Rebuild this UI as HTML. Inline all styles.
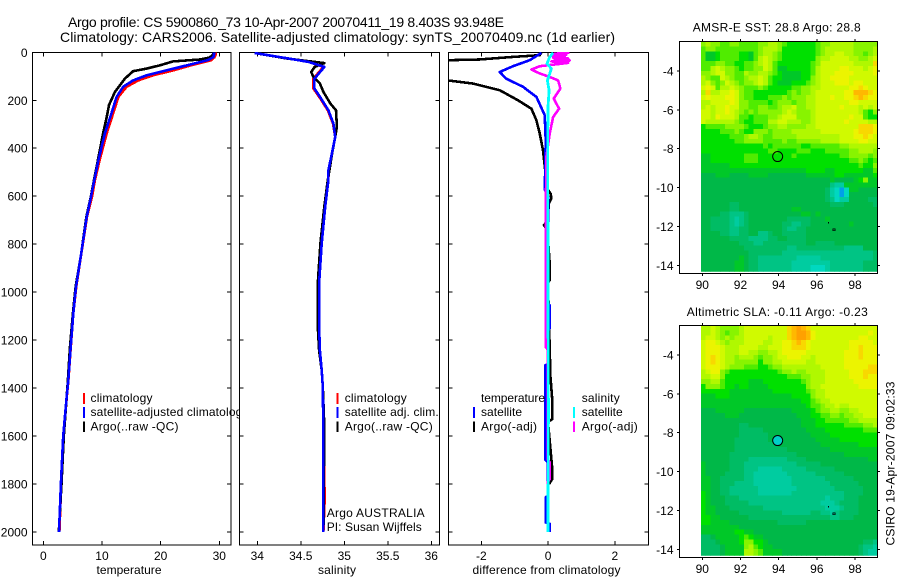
<!DOCTYPE html>
<html>
<head>
<meta charset="utf-8">
<title>Argo profile</title>
<style>
html,body{margin:0;padding:0;background:#fff;}
#chart{display:block;position:absolute;left:0;top:0;}
text{font-family:"Liberation Sans",sans-serif;font-size:12px;fill:#000;}
</style>
</head>
<body>
<svg id="chart" width="900" height="580" viewBox="0 0 900 580" xmlns="http://www.w3.org/2000/svg">
<defs>
<clipPath id="clip-diff"><rect x="448.3" y="52" width="200" height="493"/></clipPath>
<clipPath id="clip-temp-legend"><rect x="32" y="52" width="208" height="493"/></clipPath>
<clipPath id="clip-map1"><rect x="701" y="41.7" width="176.3" height="230"/></clipPath>
<clipPath id="clip-map2"><rect x="701" y="325.7" width="176.3" height="230"/></clipPath>
</defs>
<text x="68" y="27" style="font-size:14px" textLength="436">Argo profile: CS 5900860_73 10-Apr-2007 20070411_19 8.403S 93.948E</text>
<text x="60" y="42" style="font-size:14px" textLength="555">Climatology: CARS2006. Satellite-adjusted climatology: synTS_20070409.nc (1d earlier)</text>
<g id="layer"></g>
<text x="129" y="574" text-anchor="middle" textLength="65">temperature</text>
<text x="337" y="574" text-anchor="middle" textLength="38">salinity</text>
<text x="546.5" y="574" text-anchor="middle" textLength="148">difference from climatology</text>
<text x="776.7" y="31.5" text-anchor="middle" textLength="168">AMSR-E SST: 28.8 Argo: 28.8</text>
<text x="777.3" y="316" text-anchor="middle" textLength="181">Altimetric SLA: -0.11 Argo: -0.23</text>
<text transform="translate(894.5,545.5) rotate(-90)" textLength="164">CSIRO 19-Apr-2007 09:02:33</text>
</svg>
<script>
// ---- Profile data ----
const tempDepths = [0, 10, 20, 33, 54, 75, 96, 117, 144, 186, 255, 338, 450, 533, 603, 686, 853, 978, 1089, 1228, 1367, 1436, 1600, 1800, 2000];
const tempClim = [29.4, 29.4, 29.2, 28.6, 25.2, 22.2, 18.7, 16.2, 14.2, 12.8, 11.9, 10.8, 9.6, 8.8, 8.3, 7.45, 6.4, 5.6, 5.12, 4.68, 4.27, 4.0, 3.45, 3.05, 2.75];
const tempSat = [29.1, 29.1, 29.0, 28.0, 24.5, 21.0, 17.6, 15.3, 13.6, 12.5, 11.6, 10.5, 9.4, 8.69, 8.13, 7.39, 6.37, 5.57, 5.11, 4.67, 4.26, 3.99, 3.4, 3.0, 2.67];
const tempArgoDepths = [0, 12, 22, 30, 38, 54, 68, 79, 110, 165, 220, 270, 338, 450, 533, 603, 686, 853, 978, 1089, 1228, 1367, 1600, 1800, 2000];
const tempArgo = [29.0, 28.9, 28.3, 26.7, 22.1, 19.9, 17.6, 15.3, 13.9, 12.2, 11.2, 10.8, 10.2, 9.3, 8.65, 8.1, 7.35, 6.37, 5.5, 5.05, 4.55, 4.2, 3.5, 3.1, 2.65];

const salDepths = [3, 12, 26, 40, 61, 82, 110, 151, 193, 242, 297, 353, 422, 492, 533, 644, 797, 963, 1144, 1242, 1325, 1394, 1600, 1860, 2000];
const salClim = [33.97, 34.127, 34.357, 34.587, 34.76, 34.71, 34.645, 34.645, 34.725, 34.81, 34.87, 34.895, 34.857, 34.82, 34.817, 34.78, 34.74, 34.71, 34.71, 34.72, 34.74, 34.753, 34.76, 34.775, 34.76];
const salSat = [33.97, 34.127, 34.357, 34.587, 34.771, 34.722, 34.656, 34.656, 34.733, 34.817, 34.875, 34.895, 34.857, 34.817, 34.817, 34.78, 34.74, 34.71, 34.71, 34.72, 34.74, 34.753, 34.76, 34.76, 34.76];
const salArgoDepths = [3, 12, 26, 45, 61, 82, 103, 130, 165, 214, 242, 311, 353, 422, 533, 644, 797, 963, 1144, 1242, 1325, 1394, 1560, 2000];
const salArgo = [33.97, 34.12, 34.34, 34.77, 34.66, 34.62, 34.645, 34.72, 34.76, 34.84, 34.905, 34.915, 34.895, 34.86, 34.81, 34.77, 34.725, 34.695, 34.695, 34.71, 34.74, 34.753, 34.77, 34.76];

const diffTempArgoDepths = [2, 12, 19, 30, 33, 36, 60, 100, 117, 130, 158, 200, 235, 283, 338, 408, 500, 570, 590, 610, 630, 700, 720, 745, 880, 950, 960, 1350, 1440, 1530, 1540, 1730, 1780, 1800];
const diffTempArgo = [-0.2, -0.25, -1.05, -2.06, -3.0, -5, -8, -4, -3.0, -2.26, -1.45, -0.9, -0.5, -0.35, -0.25, -0.15, -0.08, -0.02, 0.08, 0.1, 0.02, 0, -0.12, -0.02, 0.05, 0.05, 0, 0.07, 0.12, 0.12, 0, 0.12, 0.12, 0.03];
const diffTempSatDepths = [2, 12, 33, 58, 82, 110, 144, 186, 262, 367, 530, 575, 600, 1050, 1055, 1150, 1160, 1300, 1305, 1700, 1710, 1850, 1855, 1960, 1965, 2000];
const diffTempSat = [-0.2, -0.31, -0.55, -1.05, -1.45, -1.25, -0.75, -0.35, -0.1, -0.07, -0.09, -0.09, 0, 0, 0.05, 0.05, 0, 0, -0.08, -0.08, 0, 0, -0.07, -0.07, 0.05, 0.05];
const diffSalArgoDepths = [2, 6, 10, 14, 18, 22, 26, 30, 34, 38, 44, 50, 58, 72, 88, 103, 117, 151, 193, 235, 270, 339, 436, 700, 1230, 1240, 1700, 1710, 1780, 1790, 2000];
const diffSalArgo = [0.65, 0.2, 0.55, 0.1, 0.5, 0.15, 0.6, 0.2, 0.65, 0.1, 0.6, 0.25, -0.25, -0.5, -0.25, 0.05, 0.3, 0.37, 0.17, 0.33, 0.15, 0.05, -0.05, -0.07, -0.07, 0, 0, 0.05, 0.05, 0, 0];
const diffSalSatDepths = [2, 20, 47, 68, 90, 117, 158, 228, 400, 1000, 1500, 2000];
const diffSalSat = [0.15, 0.05, -0.03, 0.1, 0.05, -0.02, 0.03, 0, -0.01, 0, 0.01, 0];

// ---- Tick labels ----
const depthTicks = [0, 200, 400, 600, 800, 1000, 1200, 1400, 1600, 1800, 2000];
const tempTicks = [0, 10, 20, 30];
const tempLabels = ['0', '10', '20', '30'];
const salTicks = [34, 34.5, 35, 35.5, 36];
const salLabels = ['34', '34.5', '35', '35.5', '36'];
const diffTicks = [-2, 0, 2];
const lonTicks = [90, 92, 94, 96, 98];
const latTicks = [-4, -6, -8, -10, -12, -14];

// ---- Float and map markers ----
const floatLon = [93.948];
const floatLat = [-8.403];
const islandLon = [96.9, 96.65];
const islandLat = [-12.17, -11.83];

// ---- Map grids: each character is a colour level, top row is northmost ----
const sstRows = [
'8988 7788 7777 8899 8766 6666 7889 9999 8888 8',
'7887 7777 7777 8999 8666 6666 7899 9999 8888 9',
'7556 7777 6657 8998 7666 6666 7899 aa99 8878 9',
'7556 7777 6657 9a98 7666 6666 899a aaa9 9889 a',
'7778 8776 6778 9a97 6666 6667 8aaa aaaa 9999 c',
'779a 9887 6778 8a97 5566 6667 9aaa abba aa9a b',
'889a a887 7988 9987 6555 5667 9aaa bbbb aaaa b',
'9877 a987 7899 a976 6555 5668 9aab bbba aaaa a',
'9a87 8a98 7889 a976 5556 6678 9aaa bbba bbaa a',
'aba7 99a9 8777 8766 6667 7889 9aaa aaab bcba a',
'9c99 aaba 8776 6666 6678 7889 aaaa aabb dddc b',
'abaa abba 8776 6677 7878 8899 aaab aabb cdcb b',
'99aa aaba 8877 7767 8887 8899 aaaa aaab baaa a',
'9a9a abaa 8877 8877 899a 8899 aaaa abaa a9a9 a',
'aa9a aba9 8787 8888 89a9 8889 aaaa aaaa a976 8',
'aa9b aaa9 7767 7788 9aaa 8889 aaaa aaab aa76 6',
'a999 9998 7667 7799 aa99 9889 aaaa aaba aaa9 9',
'6777 7888 8766 6788 9988 8899 aaaa aaaa accc b',
'6666 7778 7668 8878 8889 9999 9aaa aaaa bccc b',
'6666 6677 7899 8778 8888 9999 9999 9aaa bbcb a',
'6666 6667 7888 8777 7877 8888 8999 9aaa abba a',
'6666 6666 6666 6767 7777 7667 7777 7889 9999 9',
'6666 6666 6666 6677 6666 7776 6677 7778 8999 8',
'5566 6666 6777 6666 6667 6666 6666 6778 8887 8',
'5566 6666 6777 6666 6666 6666 6666 6667 7876 7',
'5555 5566 6666 6666 6666 6666 6666 6666 6766 8',
'5555 5555 5555 5555 5555 5566 6655 6666 6655 7',
'4445 5544 4455 5544 4444 4455 5555 6655 5555 6',
'4444 4444 4444 4444 4444 4444 4445 4444 5685 5',
'4444 4444 4444 4444 4444 4444 4442 1155 5555 5',
'4444 4444 4444 4444 4444 4444 4431 0f05 5444 4',
'4444 4444 4444 4444 4444 4444 4431 0f04 4444 4',
'4444 4444 4444 4444 4444 4444 4432 0114 4443 3',
'4444 4433 4444 4444 4444 4444 4443 3344 4444 3',
'4444 4433 4444 4444 4445 5444 4444 4444 4444 4',
'4444 3322 2344 4444 4444 4554 5444 4444 4444 4',
'4433 3321 2344 4444 4433 3334 4454 4444 4444 4',
'4433 3321 2344 4444 4332 2334 4444 4445 4444 4',
'4433 3322 3344 4444 4322 3344 4444 4444 4444 4',
'4444 3322 3344 2234 4333 3344 4444 4444 4444 4',
'4444 4433 3322 2233 4433 3344 4444 4444 4444 4',
'4444 4444 3332 2333 3333 3344 3333 4444 4444 4',
'4444 4444 4333 3333 3322 3333 3333 3322 2244 4',
'4444 4444 4433 3333 3222 2222 2222 2222 2222 3',
'4444 4444 5433 2222 2222 1111 1222 2222 2222 3',
'4444 4445 5433 2222 2221 1111 1112 2222 2233 3',
'4444 4445 5433 2222 2221 1110 0012 2222 2233 3',
'4444 4445 5433 2222 2221 1110 0012 2222 2233 3'
];
const slaRows = [
'99a9 8888 9aaa aaaa aacd edca aaaa aaaa aaaa a',
'99a9 8788 9aaa aaaa aacd eedb aaaa aaaa aaab a',
'9aa9 8989 9aaa aa9a aacd eedb aaaa aaaa abba a',
'abba 9899 9aaa a99a abbc dcba aaaa aaab bbbb a',
'abbb a999 aaaa 99aa abbc ccba aaaa aaab bcbb b',
'abbb a999 aa99 8899 abbb bbaa aaaa aabb bcbb b',
'abcb a998 9998 7889 aabb baa9 aaaa aabb bcbb b',
'abcb a998 8888 6889 9aaa aa99 aaaa aabb bbbb b',
'abbb a988 8777 6678 8999 9999 9aaa aabb bbbc c',
'9abb 8766 6666 6666 7889 8899 99aa aaab bbcc c',
'99aa 8666 6666 6666 6677 7889 99aa aaab bbcb b',
'8899 7666 6655 5666 6666 6789 99aa aaaa bbbb b',
'6888 7665 6655 5566 6666 6689 9aaa aaaa abbb b',
'6666 6655 5555 5556 6666 6678 99aa aaaa aaaa a',
'5556 6655 5555 5555 5556 6668 99aa aaaa aaaa a',
'5555 5555 5555 5555 5555 5667 899a aaaa aaaa a',
'5555 5555 5555 5555 5555 5567 7899 a99a aaaa a',
'4445 5555 5444 4444 4445 5556 7889 9889 9aaa a',
'4444 4555 4444 4444 4444 5556 6778 8788 99aa a',
'4444 4444 4444 4444 4444 4555 6677 7778 8999 9',
'4444 4444 3344 4444 4444 4555 6666 6677 7788 9',
'4444 4444 3333 3444 4444 4455 5566 6666 6677 7',
'4444 4444 3333 3344 4444 4445 5556 6666 6666 6',
'4444 4443 3333 3344 4444 4444 5555 5666 6666 6',
'4444 4443 3333 3333 4444 4444 4555 5555 5666 6',
'4444 4443 3333 3333 3344 4444 4445 5555 5555 5',
'4444 4433 3333 3333 3333 4444 4444 4455 5555 5',
'4444 4433 3322 2222 2233 3344 4444 4444 4445 5',
'5444 4433 3222 2222 2222 3333 3444 4444 4444 4',
'5444 4433 3222 1111 1222 2233 3333 4444 4444 4',
'5444 4333 3221 1111 1122 2222 3333 3344 4444 4',
'5544 3333 3221 1111 1112 2222 2233 3333 4444 4',
'5544 3332 2221 1111 1112 2222 2223 3333 3444 4',
'5544 3322 2222 1111 1111 2222 2222 3333 3344 4',
'6544 3322 2222 1111 1112 2222 2222 2233 3344 4',
'6544 4333 2222 2222 2222 2222 2212 2233 3444 4',
'6544 4333 3322 2222 2222 2222 2111 2333 3444 4',
'6554 4433 3333 3222 2222 2222 2211 1233 3444 4',
'6554 4444 3333 3333 3222 2223 3221 2333 3444 4',
'6655 4444 4433 3333 3333 3333 3332 2333 4444 4',
'6655 5544 4444 4444 3333 3344 4444 4444 4444 4',
'5555 5555 4444 4444 4444 4444 4444 4444 4444 4',
'5555 5556 6554 4444 4444 4444 4444 4444 4444 4',
'3345 5555 6765 5444 4444 4444 4444 4444 4444 4',
'3334 5555 6886 6544 4444 4444 4444 4444 4433 2',
'3333 4555 5897 6554 4444 4444 4444 4444 4322 1',
'3333 4555 5998 7555 5444 4444 4444 4444 4321 1',
'3333 4555 5998 7555 5444 4444 4444 4444 4321 1'
];
const levelKeys = '0123456789abcdef';
const levelColors = ['#00d8c0','#00cca0','#00c484','#00bc64','#00b848','#00c828','#00e000','#50ec00','#88f400','#b0f800','#d0fa00','#ecf400','#f8d800','#ffb800','#ffa000','#00a0e8'];

const NS = 'http://www.w3.org/2000/svg';
const layer = document.getElementById('layer');
function make(tag, attrs, parent) {
  const el = document.createElementNS(NS, tag);
  for (const k in attrs) el.setAttribute(k, attrs[k]);
  (parent || layer).appendChild(el);
  return el;
}
function linear(d0, d1, r0, r1) { return v => r0 + (v - d0) * (r1 - r0) / (d1 - d0); }

const yDepth = linear(0, 2000, 52.3, 532);
const xTemp = linear(0, 30, 43.3, 219.3);
const xSal = linear(34, 36, 257.3, 431.3);
const xDiff = linear(-2, 2, 481.3, 614.8);
const xLon = linear(90, 98, 702.3, 855);
const yLat1 = linear(-4, -14, 71, 265.3);
const yLat2 = linear(-4, -14, 355, 549.3);

function profileLine(xs, ds, xScale, color, width, name, clip, parent) {
  const pts = xs.map((v, i) => xScale(v).toFixed(1) + ',' + yDepth(ds[i]).toFixed(1)).join(' ');
  const el = make('polyline', {points: pts, fill: 'none', stroke: color, 'stroke-width': width, 'stroke-linejoin': 'round', 'shape-rendering': 'crispEdges'}, parent);
  if (clip) el.setAttribute('clip-path', clip);
  
  
}

function frame(x0, x1, y0, y1, name) {
  const el = make('rect', {x: x0, y: y0, width: x1 - x0, height: y1 - y0, fill: 'none', stroke: '#000', 'stroke-width': 1, 'shape-rendering': 'crispEdges'});
  
  
}
function tick(x1, y1, x2, y2) {
  const el = make('line', {x1: x1, y1: y1, x2: x2, y2: y2, stroke: '#000', 'stroke-width': 1, 'shape-rendering': 'crispEdges'});
  
  
}
function label(str, x, y, anchor) {
  const el = make('text', {x: x, y: y, 'text-anchor': anchor || 'middle'});
  el.textContent = str;
  
  
}
function legendText(str, x, y, len) {
  const el = make('text', {x: x, y: y, textLength: len});
  el.textContent = str;
  
  
  return el;
}
function legendMark(x, y0, y1, color) {
  const el = make('line', {x1: x, x2: x, y1: y0, y2: y1, stroke: color, 'stroke-width': 2, 'shape-rendering': 'crispEdges'});
  
  
}

function profilePanel(x0, x1, xScale, ticks, labels, name, showDepthLabels) {
  frame(x0, x1, 52.3, 545, name + '-axes');
  depthTicks.forEach(d => {
    tick(x0, yDepth(d), x0 + 4, yDepth(d));
    tick(x1 - 4, yDepth(d), x1, yDepth(d));
    if (showDepthLabels) label(String(d), 27.5, yDepth(d) + 4.5, 'end');
  });
  ticks.forEach((t, i) => {
    tick(xScale(t), 52.3, xScale(t), 56.3);
    tick(xScale(t), 541, xScale(t), 545);
    label(labels[i], xScale(t), 560);
  });
}

// Temperature panel
profilePanel(32.3, 231, xTemp, tempTicks, tempLabels, 'temperature-panel', true);
profileLine(tempClim, tempDepths, xTemp, '#ff0000', 2.6, 'temperature-climatology-line');
profileLine(tempArgo, tempArgoDepths, xTemp, '#000000', 2.6, 'temperature-argo-line');
profileLine(tempSat, tempDepths, xTemp, '#0000ff', 2.6, 'temperature-satellite-line');
legendMark(84, 393, 404, '#ff0000');
legendMark(84, 407, 418, '#0000ff');
legendMark(84, 421.5, 432, '#000000');
legendText('climatology', 90.5, 402, 62);
legendText('satellite-adjusted climatology', 90.5, 416, 158).setAttribute('clip-path', 'url(#clip-temp-legend)');
legendText('Argo(..raw -QC)', 90.5, 430.5, 88);

// Salinity panel
const wipe = make('rect', {x: 239.3, y: 52.3, width: 200, height: 492.7, fill: '#fff'});


profilePanel(239.3, 439.3, xSal, salTicks, salLabels, 'salinity-panel', false);
profileLine(salClim, salDepths, xSal, '#ff0000', 2.6, 'salinity-climatology-line');
profileLine(salArgo, salArgoDepths, xSal, '#000000', 2.6, 'salinity-argo-line');
profileLine(salSat, salDepths, xSal, '#0000ff', 2.6, 'salinity-satellite-line');
legendMark(337.7, 393, 404, '#ff0000');
legendMark(337.7, 407, 418, '#0000ff');
legendMark(337.7, 421.5, 432, '#000000');
legendText('climatology', 344.7, 402, 62);
legendText('satellite adj. clim.', 344.7, 416, 94);
legendText('Argo(..raw -QC)', 344.7, 430.5, 88);
legendText('Argo AUSTRALIA', 326.7, 517, 98);
legendText('PI: Susan Wijffels', 326.7, 531, 95);

// Difference panel
profilePanel(448.3, 648.3, xDiff, diffTicks, ['-2', '0', '2'], 'difference-panel', false);
profileLine(diffTempArgo, diffTempArgoDepths, xDiff, '#000000', 2.6, 'difference-temperature-argo-line', 'url(#clip-diff)');
profileLine(diffTempSat, diffTempSatDepths, xDiff, '#0000ff', 2.6, 'difference-temperature-satellite-line', 'url(#clip-diff)');
profileLine(diffSalArgo, diffSalArgoDepths, xDiff, '#ff00ff', 2.6, 'difference-salinity-argo-line', 'url(#clip-diff)');
profileLine(diffSalSat, diffSalSatDepths, xDiff, '#00ffff', 2.8, 'difference-salinity-satellite-line', 'url(#clip-diff)');
legendText('temperature', 481, 402, 64);
legendText('satellite', 481, 416, 41);
legendText('Argo(-adj)', 481, 430.5, 56);
legendText('salinity', 581.7, 402, 38);
legendText('satellite', 581.7, 416, 41);
legendText('Argo(-adj)', 581.7, 430.5, 56);
legendMark(474, 407, 418, '#0000ff');
legendMark(474, 421.5, 432, '#000000');
legendMark(574, 407, 418, '#00ffff');
legendMark(574, 421.5, 432, '#ff00ff');

// Maps
function mapPanel(rows, yLat, yTop, yBottom, clipId, name, fillMarker) {
  const group = make('g', {'clip-path': 'url(#' + clipId + ')', 'shape-rendering': 'crispEdges'});
  
  
  rows.forEach((row, r) => {
    const cells = row.replace(/ /g, '');
    const lat = -2.49 - r * 0.25;
    for (let c = 0; c < cells.length; c++) {
      const lon = 89.93 + c * 0.25;
      const x = xLon(lon), y = yLat(lat);
      const cell = make('rect', {x: x.toFixed(2), y: y.toFixed(2), width: (xLon(lon + 0.25) - x + 0.4).toFixed(2), height: (yLat(lat - 0.25) - y + 0.4).toFixed(2), fill: levelColors[levelKeys.indexOf(cells[c])]}, group);
      
      
    }
  });
  frame(679.3, 877.3, yTop, yBottom, name + '-axes');
  lonTicks.forEach(t => {
    tick(xLon(t), yTop - 2.5, xLon(t), yTop);
    tick(xLon(t), yBottom, xLon(t), yBottom + 2.5);
    label(String(t), xLon(t), yBottom + 15.5);
  });
  latTicks.forEach(t => {
    tick(676.8, yLat(t), 679.3, yLat(t));
    tick(877.3, yLat(t), 880, yLat(t));
    label(String(t), 673.5, yLat(t) + 4.5, 'end');
  });
  islandLon.forEach((lon, i) => {
    const mark = make('rect', {x: xLon(lon) - 1, y: yLat(islandLat[i]) - 1, width: i === 0 ? 2 : 0.8, height: i === 0 ? 2 : 1.2, fill: i === 0 ? 'none' : '#000', stroke: i === 0 ? '#000' : 'none', 'stroke-width': 0.8, 'shape-rendering': 'crispEdges'});
    
    
  });
  floatLon.forEach((lon, i) => {
    const mark = make('circle', {cx: xLon(lon), cy: yLat(floatLat[i]), r: 5, fill: fillMarker, stroke: '#000', 'stroke-width': 1});
    
    
  });
}
mapPanel(sstRows, yLat1, 41.7, 273.3, 'clip-map1', 'sst-map', 'none');
mapPanel(slaRows, yLat2, 325.7, 557.3, 'clip-map2', 'sla-map', '#00d0c8');
</script>
</body>
</html>
